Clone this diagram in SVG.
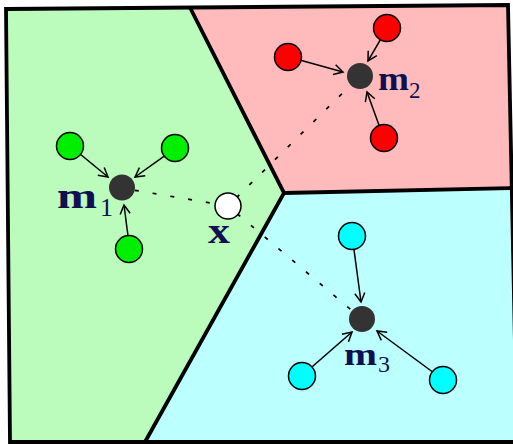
<svg xmlns="http://www.w3.org/2000/svg" width="513" height="444" viewBox="0 0 513 444">
<defs>
<style>
.region{stroke:none}
.edge{fill:none;stroke:#000;stroke-width:3.8;stroke-linejoin:miter}
.pt{stroke:#000;stroke-width:1.5}
.g{fill:#00ee00}.r{fill:#ff0000}.c{fill:#00ffff}
.mean{fill:#333333}
.arr{fill:none;stroke:#000;stroke-width:1.5}
.dot{fill:none;stroke:#000;stroke-width:1.7;stroke-dasharray:4 14}
.lbl{font-family:"Liberation Serif","Times New Roman",serif;font-weight:bold;fill:#101050}
.sub{font-family:"Liberation Serif","Times New Roman",serif;fill:#101050}
</style>
<marker id="ah" viewBox="-10 -6 12 12" refX="0" refY="0" markerWidth="12" markerHeight="12" markerUnits="userSpaceOnUse" orient="auto">
<path d="M-9,-5 L0,0 L-9,5" fill="none" stroke="#000" stroke-width="1.5"/>
</marker>
</defs>
<g id="regions">
<polygon class="region" fill="#bbfbbb" points="6,9 190,7.5 284,193 145,442 10,442"/>
<polygon class="region" fill="#ffbbbb" points="190,7.5 508,5 512,188 284,193"/>
<polygon class="region" fill="#bbffff" points="284,193 512,188 517,443 145,443"/>
</g>
<g id="boundaries">
<polygon class="edge" points="6,9 508,5 517,442 10,442"/>
<polyline class="edge" points="190,7.5 284,193 145,442"/>
<line class="edge" x1="284" y1="193" x2="512" y2="188"/>
</g>
<g id="connectors">
<line class="dot" x1="134.8" y1="190.3" x2="216.2" y2="203.9"/>
<line class="dot" x1="236.5" y1="197.6" x2="350.7" y2="85.1"/>
<line class="dot" x1="237.2" y1="213.7" x2="352" y2="310.6"/>
<line class="arr" x1="80" y1="154" x2="108" y2="177" marker-end="url(#ah)"/>
<line class="arr" x1="164.6" y1="155.8" x2="135" y2="177" marker-end="url(#ah)"/>
<line class="arr" x1="128" y1="236" x2="124" y2="205" marker-end="url(#ah)"/>
<line class="arr" x1="300.6" y1="60.3" x2="343" y2="72" marker-end="url(#ah)"/>
<line class="arr" x1="380.6" y1="39.3" x2="368" y2="61" marker-end="url(#ah)"/>
<line class="arr" x1="379.3" y1="125.9" x2="367" y2="92" marker-end="url(#ah)"/>
<line class="arr" x1="353.9" y1="248.9" x2="361" y2="302" marker-end="url(#ah)"/>
<line class="arr" x1="311.6" y1="367.2" x2="352" y2="332" marker-end="url(#ah)"/>
<line class="arr" x1="432.7" y1="372" x2="377" y2="331" marker-end="url(#ah)"/>
</g>
<g id="cluster1">
<circle class="pt g" cx="70" cy="146" r="13.5"/>
<circle class="pt g" cx="175" cy="148" r="13.5"/>
<circle class="pt g" cx="129" cy="249" r="13.5"/>
</g>
<g id="m1">
<circle class="mean" cx="122" cy="187.5" r="13"/>
<text class="lbl" x="57" y="208" font-size="36" textLength="40" lengthAdjust="spacingAndGlyphs">m</text>
<text class="sub" x="100" y="216" font-size="26">1</text>
</g>
<g id="cluster2">
<circle class="pt r" cx="288" cy="57" r="13.5"/>
<circle class="pt r" cx="387" cy="28" r="13.5"/>
<circle class="pt r" cx="384" cy="138" r="13.5"/>
</g>
<g id="m2">
<circle class="mean" cx="360" cy="76" r="13"/>
<text class="lbl" x="378" y="90" font-size="33" textLength="31" lengthAdjust="spacingAndGlyphs">m</text>
<text class="sub" x="409" y="98" font-size="23">2</text>
</g>
<g id="cluster3">
<circle class="pt c" cx="352" cy="236" r="13.5"/>
<circle class="pt c" cx="302" cy="376" r="13.5"/>
<circle class="pt c" cx="443" cy="380" r="13.5"/>
</g>
<g id="m3">
<circle class="mean" cx="362" cy="319" r="13"/>
<text class="lbl" x="344" y="365" font-size="32" textLength="33" lengthAdjust="spacingAndGlyphs">m</text>
<text class="sub" x="378" y="372" font-size="24">3</text>
</g>
<g id="x">
<circle cx="228" cy="206" r="13" fill="#ffffff" stroke="#000" stroke-width="1.5"/>
<text class="lbl" x="208" y="243" font-size="36" textLength="22" lengthAdjust="spacingAndGlyphs">x</text>
</g>
</svg>
